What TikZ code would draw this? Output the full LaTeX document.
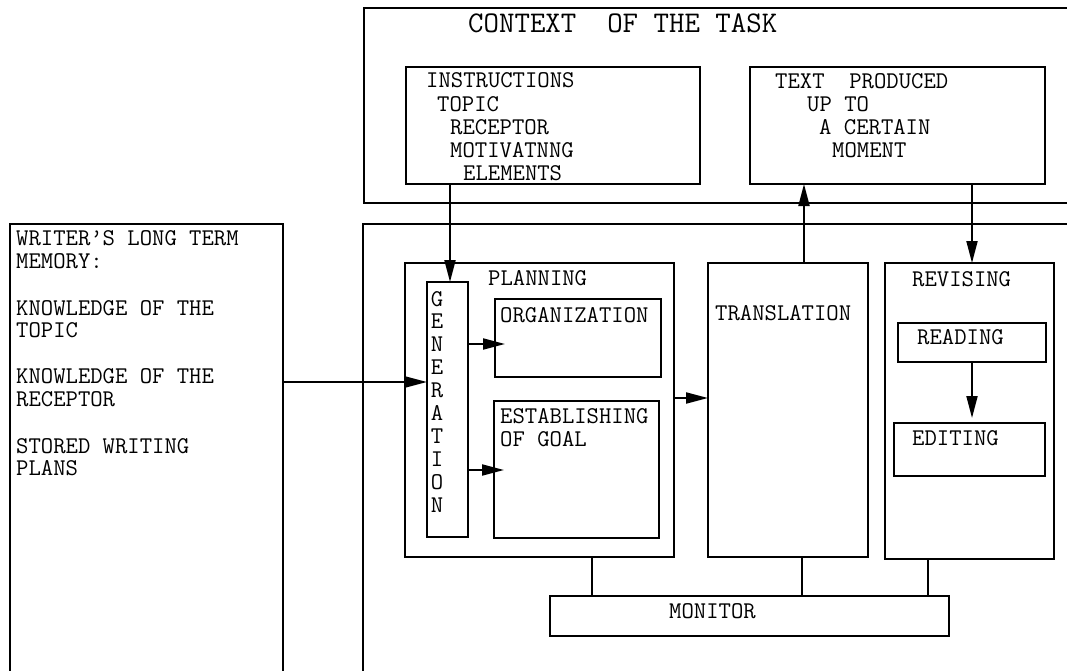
\documentclass[tikz,border=0pt]{standalone}
\usepackage{fontspec}
\usetikzlibrary{arrows.meta}
\begin{document}
\begin{tikzpicture}[x=1pt,y=-1pt,
  box/.style={draw, line width=2pt, inner sep=0pt, outer sep=0pt, anchor=north west},
  txt/.style={inner sep=0pt, anchor=base west, font=\fontsize{24}{23}\selectfont\ttfamily},
  ttl/.style={inner sep=0pt, anchor=base west, font=\fontsize{30}{30}\selectfont\ttfamily},
  arr/.style={line width=2pt, -{Triangle[length=22pt,width=11pt]}},
  ln/.style={line width=2pt}]
\useasboundingbox (0,0) rectangle (1067,671);
\fill[white] (0,0) rectangle (1067,671);

% outer (open) boxes
\node[box, minimum width=727pt, minimum height=195pt] (ctx) at (364,8) {};
\node[box, minimum width=730pt, minimum height=480pt] (proc) at (363,224) {};
\node[box, minimum width=273pt, minimum height=480pt] (mem) at (10,224) {};

% inner boxes
\node[box, minimum width=294pt, minimum height=117pt] (ins) at (406,67) {};
\node[box, minimum width=295pt, minimum height=117pt] (tb) at (750,67) {};
\node[box, minimum width=269pt, minimum height=294pt] (plan) at (405,263) {};
\node[box, minimum width=41pt, minimum height=255pt] (gen) at (427,282) {};
\node[box, minimum width=166pt, minimum height=78pt] (org) at (495,299) {};
\node[box, minimum width=165pt, minimum height=137pt] (est) at (494,401) {};
\node[box, minimum width=160pt, minimum height=294pt] (trans) at (708,263) {};
\node[box, minimum width=169pt, minimum height=296pt] (rev) at (885,263) {};
\node[box, minimum width=148pt, minimum height=39pt] (read) at (898,323) {};
\node[box, minimum width=151pt, minimum height=53pt] (edit) at (894,423) {};
\node[box, minimum width=399pt, minimum height=40pt] (mon) at (550,596) {};

% texts
\node[ttl] (tctx) at (468,33) {CONTEXT\ \ OF THE TASK};
\node[txt] (ti1) at (426,88) {INSTRUCTIONS};
\node[txt] (ti2) at (437,112) {TOPIC};
\node[txt] (ti3) at (450,135) {RECEPTOR};
\node[txt] (ti4) at (450,158) {MOTIVATNNG};
\node[txt] (ti5) at (463,180) {ELEMENTS};
\node[txt] (tt1) at (775,89) {TEXT\ \ PRODUCED};
\node[txt] (tt2) at (807,112) {UP TO};
\node[txt] (tt3) at (819,135) {A CERTAIN};
\node[txt] (tt4) at (832,158) {MOMENT};

\node[txt] (tm1) at (16,245) {WRITER’S LONG TERM};
\node[txt] (tm2) at (16,268) {MEMORY:};
\node[txt] (tm3) at (16,315) {KNOWLEDGE OF THE};
\node[txt] (tm4) at (16,337) {TOPIC};
\node[txt] (tm5) at (16,383) {KNOWLEDGE OF THE};
\node[txt] (tm6) at (16,406) {RECEPTOR};
\node[txt] (tm7) at (16,453) {STORED WRITING};
\node[txt] (tm8) at (16,475) {PLANS};

\node[txt] (tplan) at (488,285) {PLANNING};
\node[txt] (torg) at (500,322) {ORGANIZATION};
\node[txt] (test1) at (500,423) {ESTABLISHING};
\node[txt] (test2) at (500,446) {OF GOAL};
\foreach \l [count=\i] in {G,E,N,E,R,A,T,I,O,N}
  \node[txt, anchor=base] (tg\i) at (437,{306+22.9*(\i-1)}) {\l};
\node[txt] (ttrans) at (715,320) {TRANSLATION};
\node[txt] (trev) at (912,286) {REVISING};
\node[txt] (tread) at (917,344) {READING};
\node[txt] (tedit) at (912,445) {EDITING};
\node[txt] (tmon) at (669,618) {MONITOR};

% connectors
\draw[arr] (ins.south -| 450,0) -- (gen.north -| 450,0);
\draw[arr] (mem.east |- 0,382) -- (gen.west |- 0,382);
\draw[arr, shorten >=-10pt] (gen.east |- 0,344) -- (org.west |- 0,344);
\draw[arr, shorten >=-10pt] (gen.east |- 0,470) -- (est.west |- 0,470);
\draw[arr] (plan.east |- 0,398) -- (trans.west |- 0,398);
\draw[arr] (trans.north -| 804,0) -- (tb.south -| 804,0);
\draw[arr] (tb.south -| 972,0) -- (rev.north -| 972,0);
\draw[arr, shorten >=5pt] (read.south -| 972,0) -- (edit.north -| 972,0);
\draw[ln] (plan.south -| 592,0) -- (mon.north -| 592,0);
\draw[ln] (trans.south -| 802,0) -- (mon.north -| 802,0);
\draw[ln] (rev.south -| 928,0) -- (mon.north -| 928,0);
\end{tikzpicture}
\end{document}
